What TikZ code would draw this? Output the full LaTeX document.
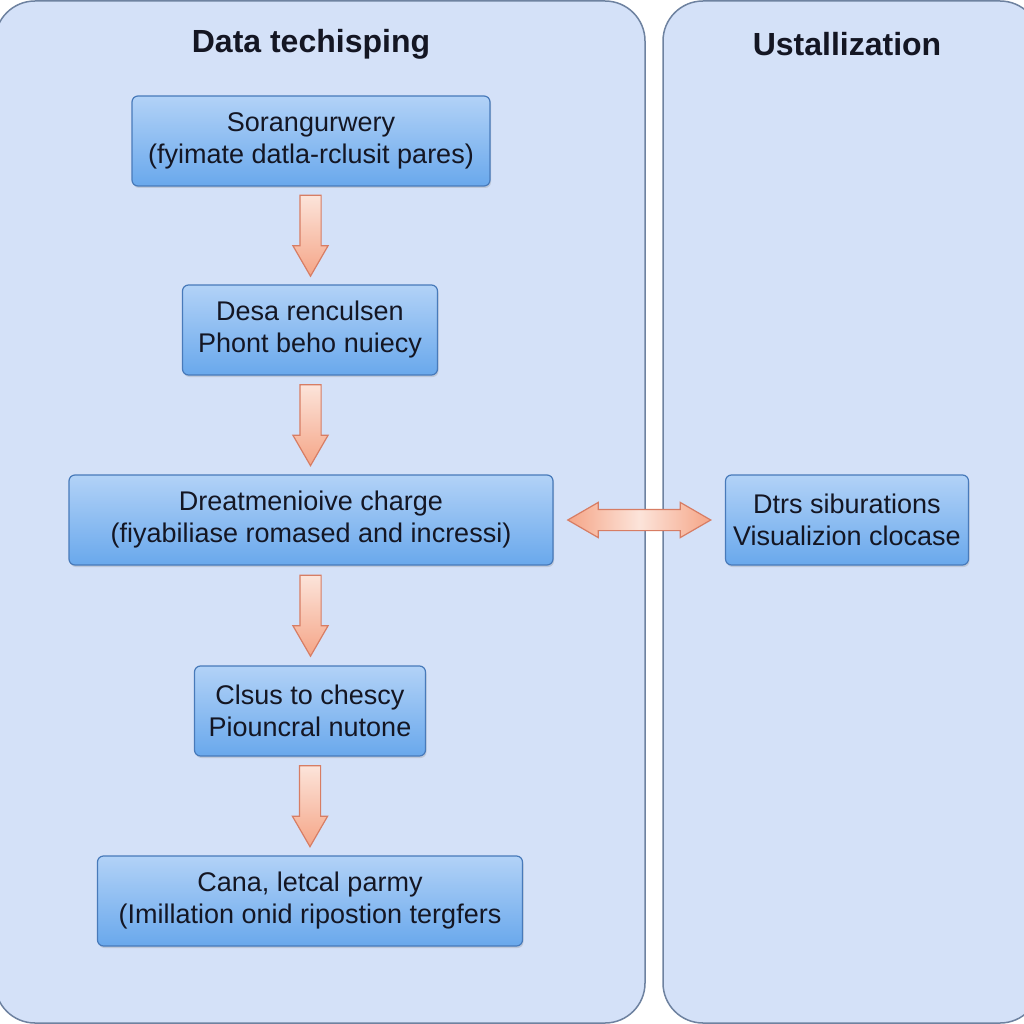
\documentclass[tikz,border=0pt]{standalone}
\usepackage{fontspec}
\setmainfont{Liberation Sans}
\usetikzlibrary{shapes.arrows,shadows}

\definecolor{panelfill}{RGB}{212,225,248}
\definecolor{panelline}{RGB}{110,130,160}
\definecolor{boxtop}{RGB}{178,210,247}
\definecolor{boxbot}{RGB}{105,168,236}
\definecolor{boxline}{RGB}{72,122,186}
\definecolor{arrlight}{RGB}{252,228,218}
\definecolor{arrdark}{RGB}{245,165,135}
\definecolor{arrline}{RGB}{215,125,100}
\definecolor{txt}{RGB}{20,22,35}

\begin{document}
\begin{tikzpicture}[x=1pt, y=-1pt]
	\tikzset{box/.style={draw=boxline, line width=1.2pt, rounded corners=6pt, top color=boxtop, bottom color=boxbot, text=txt, align=center, inner sep=4pt, minimum height=90pt, font=\fontsize{27}{32}\selectfont, drop shadow={opacity=0.25, shadow xshift=1pt, shadow yshift=-2pt}}};
	\tikzset{downarr/.style={single arrow, shape border rotate=270, draw=arrline, line width=1.2pt, top color=arrlight, bottom color=arrdark, inner sep=10pt, minimum height=81pt, single arrow head extend=7pt, single arrow tip angle=60, yshift=9pt}};
	\tikzset{botharr/.style={double arrow, draw=arrline, line width=1.2pt, left color=arrdark, right color=arrdark, middle color=arrlight, inner sep=10pt, minimum height=143pt, double arrow head extend=7pt, double arrow tip angle=60}};
	\tikzset{heading/.style={text=txt, font=\fontsize{32}{36}\selectfont\bfseries}};

	\useasboundingbox (0,0) rectangle (1024,1024);
	\fill[white] (0,0) rectangle (1024,1024);

	\draw[panelline, line width=1.5pt, fill=panelfill, rounded corners=40pt] (-5,1) rectangle (645,1023);
	\draw[panelline, line width=1.5pt, fill=panelfill, rounded corners=40pt] (663,1) rectangle (1040,1023);

	\node[heading] (t1) at (311,44) {Data techisping};
	\node[heading] (t2) at (847,44) {Ustallization};

	\node[box, minimum width=358pt] (s1) at (311,141) {Sorangurwery\\(fyimate datla-rclusit pares)};
	\node[box, minimum width=255pt] (s2) at (310,330) {Desa renculsen\\Phont beho nuiecy};
	\node[box, minimum width=484pt] (s3) at (311,520) {Dreatmenioive charge\\(fiyabiliase romased and incressi)};
	\node[box, minimum width=231pt] (s4) at (310,711) {Clsus to chescy\\Piouncral nutone};
	\node[box, minimum width=425pt] (s5) at (310,901) {Cana, letcal parmy\\(Imillation onid ripostion tergfers};
	\node[box, minimum width=243pt] (v1) at (847,520) {Dtrs siburations\\Visualizion clocase};

	\path (s1) -- (s2) node[midway, downarr] (a1) {};
	\path (s2) -- (s3) node[midway, downarr] (a2) {};
	\path (s3) -- (s4) node[midway, downarr] (a3) {};
	\path (s4) -- (s5) node[midway, downarr] (a4) {};

	\path (s3) -- (v1) node[midway, botharr] (a5) {};
\end{tikzpicture}
\end{document}
